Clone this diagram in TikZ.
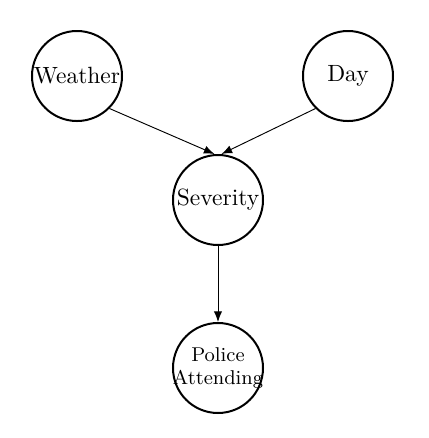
\documentclass[tikz,border=0pt]{standalone}
\usetikzlibrary{arrows.meta}
\begin{document}
\begin{tikzpicture}[x=0.4255pt,y=-0.4255pt,
  var/.style={circle,draw,line width=0.85pt,minimum size=38.3pt,inner sep=0pt,align=center},
  conn/.style={-{Latex[length=4.5pt,width=3.5pt]},line width=0.4pt}]
\useasboundingbox (0,0) rectangle (429,438);
\node[var] (W) at (77,76) {Weather};
\node[var] (D) at (348,76) {Day};
\node[var] (S) at (218,200) {Severity};
\node[var,label={[font=\fontsize{8.5}{10}\selectfont,align=center,inner sep=0pt]center:Police\\Attending}] (P) at (218,368) {};
\draw[conn] (W.south east) -- ([xshift=-1.5pt]S.north);
\draw[conn] (D.south west) -- ([xshift=1.5pt]S.north);
\draw[conn] (S) -- (P);
\end{tikzpicture}
\end{document}
